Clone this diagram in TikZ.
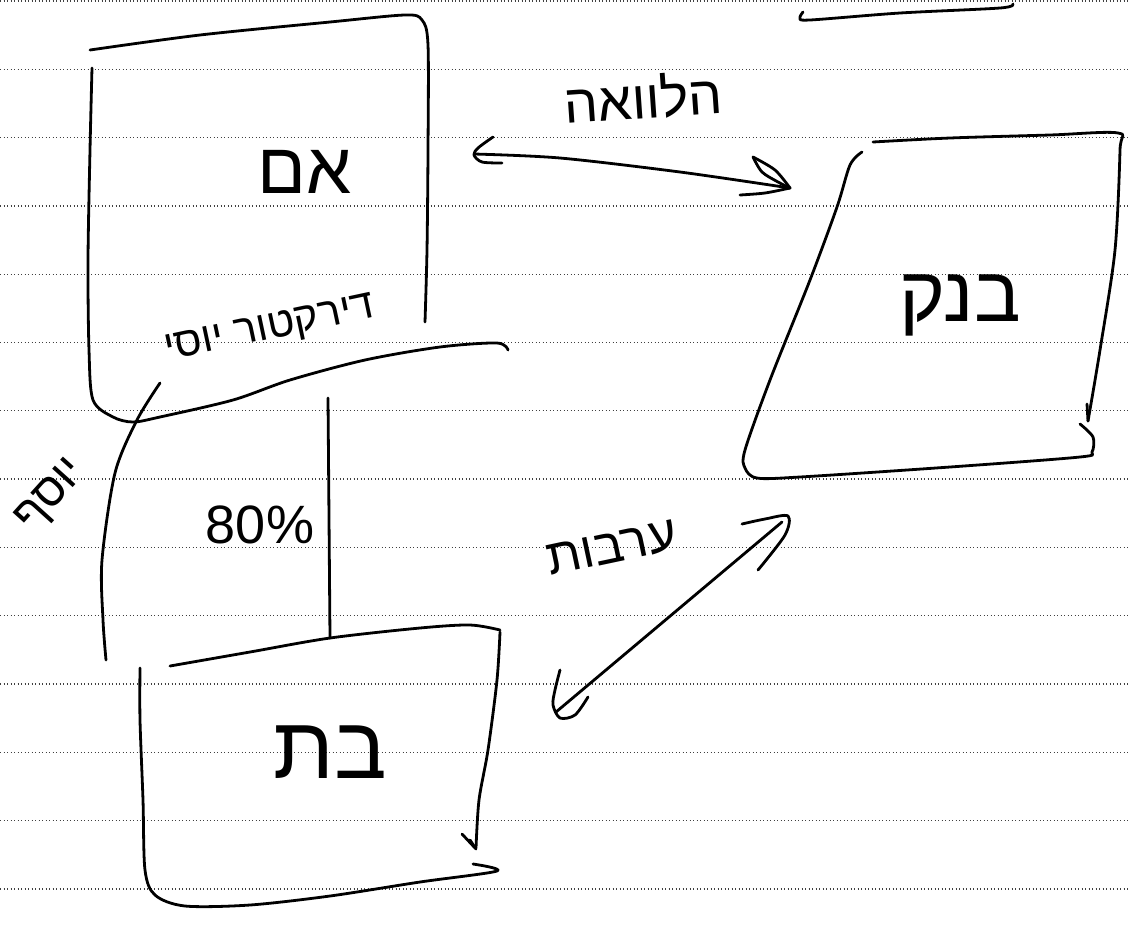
\documentclass[tikz,border=0pt]{standalone}
\usepackage{fontspec}
\newfontfamily\hebfont[Script=Hebrew]{Liberation Sans}
\TeXXeTstate=1
\tikzset{
  pen/.style={line width=2.8pt, line cap=round, line join=round, black},
  rule/.style={line width=1.3pt, black!75, dash pattern=on 1.3pt off 2.2pt},
  lbl/.style={inner sep=0pt, black},
}
\newcommand{\heb}[2]{{\hebfont\fontsize{#1}{#1}\selectfont\beginR #2\endR}}
\begin{document}
\begin{tikzpicture}[x=1pt,y=-1pt]
\useasboundingbox (0,0) rectangle (1129,930);
\fill[white] (0,0) rectangle (1129,930);
% ruled paper
\foreach \k in {0,...,13}{
  \draw[rule] (0,{1+68.3*\k}) -- (1129,{1+68.3*\k});
}
% ---------- Box 1 (parent) ----------
\draw[pen] plot[smooth] coordinates {(90,50)(200,35)(330,22)(405,15)(422,20)(428,45)(428,150)(427,250)(425,322)};
\draw[pen] plot[smooth] coordinates {(92,68)(90,150)(88,260)(89,350)(93,400)(113,417)(133,422)(160,417)(233,400)(290,380)(365,360)(440,347)(497,343)(508,350)};
\node[lbl] (em) at (305,172) {\heb{72}{אם}};
\node[lbl, rotate=12] (dir) at (270,330) {\heb{42}{דירקטור יוסי}};
% ---------- Box 2 (bank) ----------
\draw[pen] plot[smooth] coordinates {(873,142)(950,138)(1050,135)(1118,133)(1120,150)(1115,250)(1100,350)(1088,421)};
\draw[pen] (1087,404) -- (1088,421);
\draw[pen] plot[smooth] coordinates {(1080,424)(1093,437)(1092,452)(1080,457)(950,467)(800,477)(757,478)(745,468)(745,450)(770,380)(810,280)(837,207)(850,165)(862,152)};
\node[lbl] (bank) at (960,305) {\heb{78}{בנק}};
% ---------- Box 3 (subsidiary) ----------
\draw[pen] plot[smooth] coordinates {(170,666)(250,652)(330,638)(420,628)(470,625)(500,630)};
\draw[pen] plot[smooth] coordinates {(500,632)(497,680)(488,750)(479,800)(476,848)};
\draw[pen] (462,834) -- (476,849) -- (470,840);
\draw[pen] plot[smooth] coordinates {(473,864)(497,871)(420,882)(330,896)(250,905)(185,906)(155,895)(145,870)(143,800)(140,720)(140,668)};
\node[lbl] (bat) at (330,752) {\heb{88}{בת}};
% ---------- ownership line ----------
\coordinate (own1) at (328,398);
\coordinate (own2) at (330,638);
\draw[pen] (own1) -- (own2);
\node[lbl] (pct) at (260,525) {\fontspec{Liberation Sans}\fontsize{54}{54}\selectfont 80\%};
% ---------- director bracket ----------
\draw[pen] plot[smooth] coordinates {(160,383)(137,420)(115,473)(102,560)(103,620)(106,660)};
\node[lbl, rotate=48] (yosef) at (52,497) {\heb{46}{יוסף}};
% ---------- loan arrow ----------
\coordinate (la) at (474,155);
\coordinate (lb) at (790,188);
\draw[pen] plot[smooth] coordinates {(474,154)(560,158)(680,172)(790,188)};
\draw[pen] plot[smooth] coordinates {(493,137)(478,148)(474,155)(482,162)(502,163)};
\draw[pen] plot[smooth] coordinates {(753,157)(762,172)(778,182)(790,188)};
\draw[pen] plot[smooth] coordinates {(753,157)(775,170)(790,188)};
\draw[pen] plot[smooth] coordinates {(740,195)(765,193)(790,188)};
\node[lbl, rotate=4] (loan) at (643,97) {\heb{54}{הלוואה}};
% ---------- guarantee arrow ----------
\coordinate (ga) at (556,712);
\coordinate (gb) at (782,522);
\draw[pen] (ga) -- (gb);
\draw[pen] plot[smooth] coordinates {(742,524)(765,519)(788,516)(785,535)(758,570)};
\draw[pen] plot[smooth] coordinates {(560,670)(555,690)(553,705)(560,718)(575,715)(588,697)};
\node[lbl, rotate=12] (guar) at (612,548) {\heb{50}{ערבות}};
% ---------- top-right underline ----------
\coordinate (u1) at (800,16);
\coordinate (u2) at (1013,4);
\draw[pen] plot[smooth] coordinates {(803,12)(800,18)(810,20)(900,13)(1000,8)(1013,4)};
\end{tikzpicture}
\end{document}
